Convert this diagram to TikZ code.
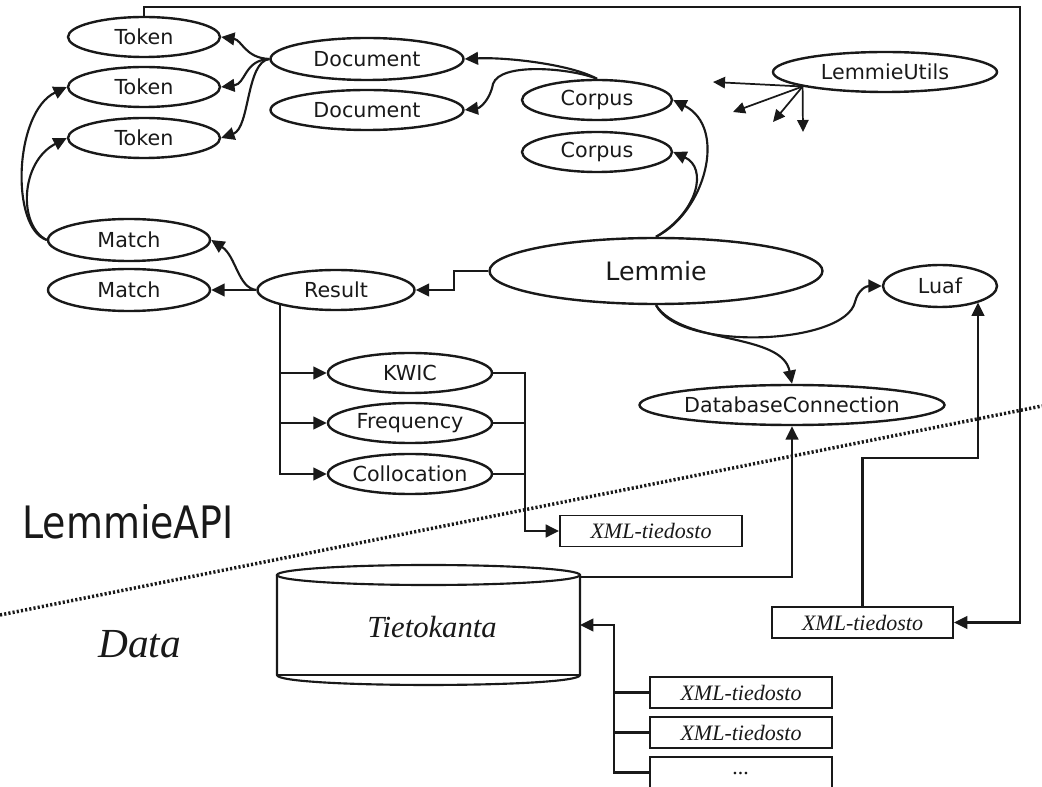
\documentclass[tikz,border=0pt]{standalone}
\usepackage{fontspec}
\setmainfont{Liberation Serif}
\setsansfont{DejaVu Sans}
\usetikzlibrary{arrows.meta,shapes.geometric,calc}
\begin{document}
\begin{tikzpicture}[x=0.75pt,y=-0.75pt,
  ell/.style 2 args={ellipse, draw=black!90, line width=1.8pt, inner sep=0pt,
    minimum width=#1*0.75pt, minimum height=#2*0.75pt,
    font=\sffamily\fontsize{15.5}{18}\selectfont, text=black!90},
  filebox/.style 2 args={rectangle, draw=black!90, line width=1.4pt, inner sep=0pt,
    minimum width=#1*0.75pt, minimum height=#2*0.75pt,
    font=\itshape\fontsize{16.5}{19}\selectfont, text=black!90},
  con/.style={draw=black!90, line width=1.6pt},
  arr/.style={con, -{Triangle[length=10pt,width=9.5pt]}},
  sarr/.style={con, line width=1.3pt, -{Triangle[length=9pt,width=8.5pt]}},
  sep/.style={draw=black!90, line width=2.6pt, dash pattern=on 1.6pt off 1.6pt}
]
\useasboundingbox (0,0) rectangle (1042,787);

% ---- ellipses ----
\node[ell={152}{40}] (tok1) at (144,37) {\makebox[0pt]{Token}};
\node[ell={152}{40}] (tok2) at (144,87) {\makebox[0pt]{Token}};
\node[ell={152}{40}] (tok3) at (144,138) {\makebox[0pt]{Token}};
\node[ell={193}{42}] (doc1) at (367,59) {\makebox[0pt]{Document}};
\node[ell={193}{40}] (doc2) at (367,110) {\makebox[0pt]{Document}};
\node[ell={150}{40}] (cor1) at (597,100) {\makebox[0pt]{Corpus}};
\node[ell={150}{40}] (cor2) at (597,152) {\makebox[0pt]{Corpus}};
\node[ell={224}{40}] (utils) at (885,72) {\makebox[0pt]{LemmieUtils}};
\node[ell={162}{42}] (match1) at (129,240) {\makebox[0pt]{Match}};
\node[ell={162}{42}] (match2) at (129,290) {\makebox[0pt]{Match}};
\node[ell={157}{40}] (result) at (336,290) {\makebox[0pt]{Result}};
\node[ell={333}{66}, font=\sffamily\fontsize{19}{22}\selectfont] (lemmie) at (656,271) {\makebox[0pt]{Lemmie}};
\node[ell={114}{42}] (luaf) at (940,286) {\makebox[0pt]{Luaf}};
\node[ell={305}{40}] (db) at (792,405) {\makebox[0pt]{DatabaseConnection}};
\node[ell={164}{40}] (kwic) at (410,373) {\makebox[0pt]{KWIC}};
\node[ell={164}{40}] (freq) at (410,423) {\makebox[0pt]{Frequency}};
\node[ell={164}{40}] (coll) at (410,474) {\makebox[0pt]{Collocation}};

% ---- file boxes ----
\node[filebox={182}{31}] (xml1) at (651,531) {XML-tiedosto};
\node[filebox={181}{31}] (xml2) at (862.5,622.5) {XML-tiedosto};
\node[filebox={182}{31}] (xmlA) at (741,692.5) {XML-tiedosto};
\node[filebox={182}{31}] (xmlB) at (741,732.5) {XML-tiedosto};
\node[filebox={182}{31}] (xmlC) at (741,772.5) {\raisebox{-0.5ex}{...}};

% ---- database cylinder ----
\draw[draw=black!90, line width=1.6pt] (277,575) -- (277,675)
  .. controls (277,688.3) and (580,688.3) .. (580,675) -- (580,575);
\draw[draw=black!90, line width=1.6pt] (428.5,575) ellipse[x radius=151.5, y radius=10];
\draw[draw=black!90, line width=1.4pt] (277,675) -- (580,675);
\node[font=\itshape\fontsize{23}{27}\selectfont, text=black!90] (tk) at (432,627) {Tietokanta};
\coordinate (cylTR) at (580,577);
\coordinate (cylR) at (580,625);

% ---- section labels and separator ----
\node[anchor=base west, inner sep=0pt, font=\sffamily\fontsize{33.5}{38}\selectfont, text=black!90]
  (api) at (22,538) {\scalebox{0.85}[1]{LemmieAPI}};
\node[anchor=base west, inner sep=0pt, font=\itshape\fontsize{31}{36}\selectfont, text=black!90]
  (data) at (98,657) {Data};
\coordinate (sepL) at (0,615);
\coordinate (sepR) at (1042,406);
\draw[sep] (sepL) -- (sepR);

% ---- connectors ----
% Document -> Tokens
\draw[arr] (doc1.west) .. controls (245,58) and (242,40) .. (tok1.east);
\draw[arr] (doc1.west) .. controls (244,60) and (246,84) .. (tok2.east);
\draw[arr] (doc1.west) .. controls (246,62) and (250,128) .. (tok3.east);
% Corpus -> Documents
\draw[arr] (cor1.north) .. controls (570,64) and (505,57) .. (doc1.east);
\draw[arr] (cor1.north) .. controls (570,68) and (500,62) .. (493,84)
  .. controls (490,100) and (480,108) .. (doc2.east);
% Lemmie -> Corpus
\draw[arr] (lemmie.north) .. controls (705,212) and (728,128) .. (cor1.east);
\draw[arr] (lemmie.north) .. controls (698,212) and (708,168) .. (cor2.east);
% Lemmie -> Result
\draw[arr] (lemmie.west) -- ++(-34,0) |- (result.east);
% Result -> Matches
\draw[arr] (result.west) -- (match2.east);
\draw[arr] (result.west) .. controls (238,288) and (236,256) .. (match1.east);
% Match -> Tokens
\draw[arr] (match1.west) .. controls (10,228) and (14,112) .. (tok2.west);
\draw[arr] (match1.west) .. controls (18,226) and (20,162) .. (tok3.west);
% Result -> KWIC / Frequency / Collocation
\draw[arr] (result.195) |- (kwic.west);
\draw[arr] (result.195) |- (freq.west);
\draw[arr] (result.195) |- (coll.west);
% outputs -> XML file
\coordinate (jx) at (525,531);
\draw[arr] (kwic.east) -| (jx) -- (xml1.west);
\draw[con] (freq.east) -- (freq.east -| jx);
\draw[con] (coll.east) -- (coll.east -| jx);
% Lemmie -> Luaf, DatabaseConnection
\draw[arr] (lemmie.south) .. controls (680,352) and (845,345) .. (855,302)
  .. controls (858,290) and (866,286) .. (luaf.west);
\draw[arr] (lemmie.south) .. controls (682,345) and (782,332) .. (db.north);
% Database -> DatabaseConnection
\draw[arr] (cylTR) -| (db.south);
% XML file -> Luaf
\coordinate (lt) at (978,458);
\draw[arr] (xml2.north) |- (lt) -- (lt |- luaf.-23);
% Token top line -> XML file
\coordinate (tl) at (1020,7);
\draw[arr] (tok1.north) |- (tl) |- (xml2.east);
% XML files -> Database
\coordinate (tr) at (614,625);
\draw[arr] (xmlC.west) -| (tr) -- (cylR);
\draw[con] (xmlA.west) -- (xmlA.west -| tr);
\draw[con] (xmlB.west) -- (xmlB.west -| tr);
% LemmieUtils arrows
\coordinate (u1) at (713,82);
\coordinate (u2) at (733,112);
\coordinate (u3) at (773,122);
\coordinate (u4) at (803,132);
\draw[sarr] (utils.190) -- (u1);
\draw[sarr] (utils.190) -- (u2);
\draw[sarr] (utils.190) -- (u3);
\draw[sarr] (utils.190) -- (u4);
\end{tikzpicture}
\end{document}
